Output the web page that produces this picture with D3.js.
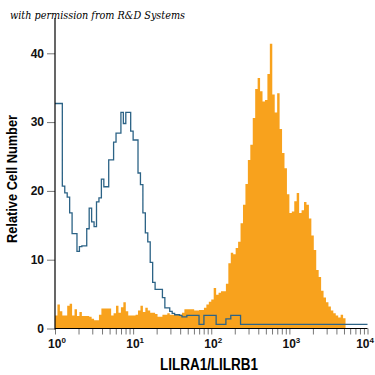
<!DOCTYPE html>
<html>
<head>
<meta charset="utf-8">
<script src="https://cdn.jsdelivr.net/npm/d3@7"></script>
<style>
  body { margin: 0; background: #fff; }
  svg { display: block; }
</style>
</head>
<body>
<div id="chart"></div>
<script>
// histogram bins: 128 channels spread evenly over 4 log decades
const decades = [0, 1, 2, 3, 4];
const yTicks = [0, 10, 20, 30, 40];
const xTitle = "LILRA1/LILRB1";
const yTitle = "Relative Cell Number";
const credit = "with permission from R&D Systems";

// isotype control (open blue line)
const controlCounts = [
  32.7, 32.7, 32.7, 20.7, 19.7, 19.1, 16.8, 13.8, 13.8, 11.2,
  11.9, 12.0, 12.0, 14.5, 17.5, 15.5, 14.8, 18.4, 19.0, 21.7,
  20.6, 20.6, 24.5, 24.5, 27.1, 28.4, 28.4, 31.4, 29.8, 31.4,
  31.4, 28.7, 27.4, 27.4, 22.6, 20.9, 16.8, 13.9, 12.6, 9.6,
  6.7, 5.7, 5.7, 5.7, 4.5, 3.0, 3.0, 2.5, 2.2, 2.0,
  2.0, 1.9, 1.7, 1.7, 1.9, 1.9, 1.9, 1.9, 1.9, 0.6,
  0.6, 1.9, 1.9, 1.9, 1.9, 1.9, 0.6, 0.6, 0.6, 0.6,
  1.4, 1.4, 1.9, 1.9, 1.9, 1.9, 0.6, 0.6, 0.6, 0.6,
  0.6, 0.6, 0.6, 0.6, 0.6, 0.6, 0.6, 0.6, 0.6, 0.6,
  0.6, 0.6, 0.6, 0.6, 0.6, 0.6, 0.6, 0.6, 0.6, 0.6,
  0.6, 0.6, 0.6, 0.6, 0.6, 0.6, 0.6, 0.6, 0.6, 0.6,
  0.6, 0.6, 0.6, 0.6, 0.6, 0.6, 0.6, 0.6, 0.6, 0.6,
  0.6, 0.6, 0.6, 0.6, 0.6, 0.6, 0.6, 0.6
];

// LILRA1/LILRB1 stained cells (filled orange)
const stainedCounts = [
  1.9, 3.5, 2.5, 1.9, 1.9, 3.3, 3.6, 1.9, 2.8, 1.8,
  2.4, 1.8, 1.8, 1.8, 1.7, 1.4, 1.2, 1.2, 2.0, 2.9,
  2.9, 2.9, 2.9, 1.9, 2.2, 3.3, 2.3, 3.1, 3.8, 2.5,
  1.9, 1.9, 1.9, 2.0, 2.6, 3.3, 2.4, 3.0, 2.6, 2.3,
  2.3, 2.1, 1.7, 1.7, 2.0, 2.0, 2.2, 2.0, 2.0, 2.0,
  2.1, 2.0, 2.3, 2.8, 2.8, 2.8, 2.8, 2.6, 2.6, 2.7,
  2.7, 3.0, 3.5, 3.9, 4.2, 5.9, 4.9, 5.2, 5.4, 5.4,
  6.5, 9.5, 11.0, 10.8, 11.7, 12.6, 15.3, 18.0, 21.0, 24.5,
  26.7, 30.6, 34.8, 36.4, 34.5, 33.0, 33.2, 37.0, 41.4, 34.0,
  31.4, 34.2, 29.0, 25.5, 23.3, 19.5, 16.8, 17.0, 18.5, 19.7,
  16.8, 17.2, 18.4, 18.0, 16.0, 13.5, 11.4, 8.5, 7.5, 5.5,
  4.5, 3.8, 3.2, 2.6, 2.2, 1.9, 1.6, 2.0, 1.5, 0,
  0, 0, 0, 0, 0, 0, 0, 0
];

class HistogramView {
  constructor(selector) {
    this.width = 375;
    this.height = 375;
    this.svg = d3.select(selector).append("svg")
      .attr("width", this.width)
      .attr("height", this.height);
    this.x = d3.scaleLog().domain([1, 1e4]).range([55, 367.5]);
    this.y = d3.scaleLinear().domain([0, 40]).range([328.5, 53.3]);
  }

  // step points: one per bin edge, last value repeated at the right edge
  steps(counts) {
    const n = counts.length;
    const edge = i => Math.pow(10, decades[0] + (decades[decades.length - 1] - decades[0]) * i / n);
    const pts = counts.map((c, i) => [edge(i), c]);
    pts.push([edge(n), counts[n - 1]]);
    return pts;
  }

  draw() {
    const x = this.x, y = this.y, svg = this.svg;

    const area = d3.area()
      .curve(d3.curveStepAfter)
      .x(d => x(d[0]))
      .y0(y(0))
      .y1(d => y(d[1]));
    svg.append("path")
      .datum(this.steps(stainedCounts))
      .attr("d", area)
      .attr("fill", "#f8a21d");

    const line = d3.line()
      .curve(d3.curveStepAfter)
      .x(d => x(d[0]))
      .y(d => y(d[1]));
    svg.append("path")
      .datum(this.steps(controlCounts))
      .attr("d", line)
      .attr("fill", "none")
      .attr("stroke", "#2c6386")
      .attr("stroke-width", 1.3);

    // x ticks, majors and minors, all below the axis
    const minor = [];
    decades.slice(0, -1).forEach(d => {
      for (let k = 1; k < 10; k++) minor.push(k * Math.pow(10, d));
    });
    minor.push(1e4);
    const xAxis = svg.append("g")
      .attr("transform", `translate(0,${y(0)})`)
      .call(d3.axisBottom(x).tickValues(minor).tickSize(6).tickFormat(""));
    xAxis.select(".domain").remove();
    xAxis.selectAll(".tick line").attr("stroke", "#777");

    const yAxis = svg.append("g")
      .attr("transform", `translate(${x(1)},0)`)
      .call(d3.axisLeft(y).tickValues(yTicks).tickSize(8).tickPadding(3));
    yAxis.select(".domain").remove();
    yAxis.selectAll(".tick line").attr("stroke", "#777");
    yAxis.selectAll(".tick text")
      .attr("font-family", "Liberation Sans, Arial, sans-serif")
      .attr("font-size", 12)
      .attr("font-weight", "bold")
      .attr("fill", "#111");

    // axis lines
    svg.append("line")
      .attr("x1", x(1)).attr("x2", x(1))
      .attr("y1", 18).attr("y2", y(0) + 1)
      .attr("stroke", "#000").attr("stroke-width", 1.2);
    svg.append("line")
      .attr("x1", x(1)).attr("x2", x(1e4))
      .attr("y1", y(0)).attr("y2", y(0))
      .attr("stroke", "#000").attr("stroke-width", 1.2);

    // decade labels 10^n; the last one is pulled in so it stays on the page
    const lab = svg.append("g")
      .attr("font-family", "Liberation Sans, Arial, sans-serif")
      .attr("font-weight", "bold")
      .attr("fill", "#111");
    decades.forEach((d, i) => {
      const last = i === decades.length - 1;
      const t = lab.append("text")
        .attr("x", last ? 374 : x(Math.pow(10, d)) + 2)
        .attr("y", 348)
        .attr("text-anchor", last ? "end" : "middle")
        .attr("font-size", 12);
      t.append("tspan").text("10");
      t.append("tspan").attr("dy", -5).attr("font-size", 8).text(d);
    });

    svg.append("text")
      .attr("x", 209)
      .attr("y", 370)
      .attr("text-anchor", "middle")
      .attr("font-family", "Liberation Sans, Arial, sans-serif")
      .attr("font-weight", "bold")
      .attr("font-size", 16)
      .attr("textLength", 98)
      .attr("lengthAdjust", "spacingAndGlyphs")
      .text(xTitle);

    svg.append("text")
      .attr("transform", "translate(17,179) rotate(-90)")
      .attr("text-anchor", "middle")
      .attr("font-family", "Liberation Sans, Arial, sans-serif")
      .attr("font-weight", "bold")
      .attr("font-size", 14)
      .attr("textLength", 128)
      .attr("lengthAdjust", "spacingAndGlyphs")
      .text(yTitle);

    svg.append("text")
      .attr("x", 10)
      .attr("y", 19)
      .attr("font-family", "DejaVu Serif, serif")
      .attr("font-style", "italic")
      .attr("font-size", 11)
      .attr("textLength", 175)
      .attr("lengthAdjust", "spacingAndGlyphs")
      .text(credit);
  }
}

new HistogramView("#chart").draw();
</script>
</body>
</html>
